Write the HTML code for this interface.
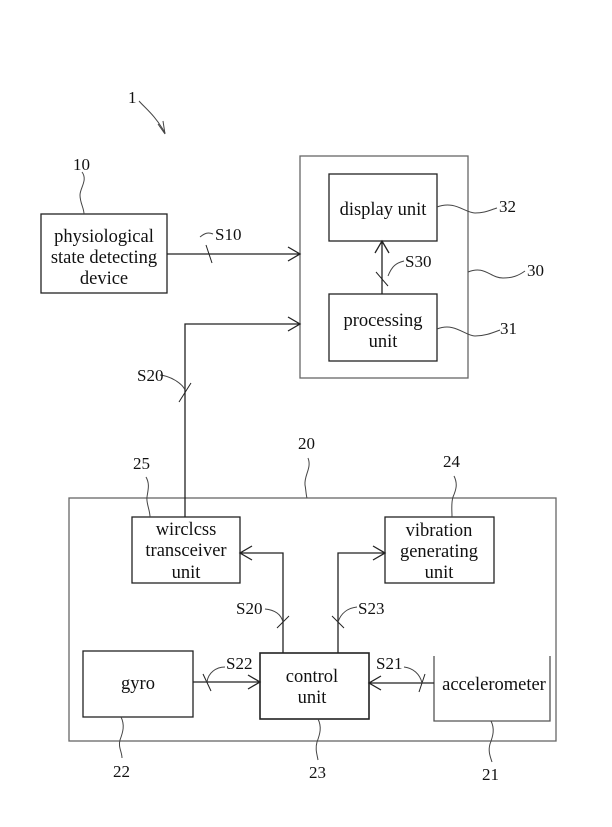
<!DOCTYPE html>
<html><head><meta charset="utf-8"><style>
html,body{margin:0;padding:0;background:#fff}
svg{display:block}
text{font-family:"Liberation Serif",serif;font-size:17px;fill:#111}
.b{font-size:18.5px}
</style></head><body>
<svg width="612" height="827" viewBox="0 0 612 827" xmlns="http://www.w3.org/2000/svg">
<g fill="none" stroke="#222" stroke-width="1.3">
<rect x="41" y="214" width="126" height="79"/>
<rect x="300" y="156" width="168" height="222" stroke="#666"/>
<rect x="329" y="174" width="108" height="67"/>
<rect x="329" y="294" width="108" height="67"/>
<rect x="69" y="498" width="487" height="243" stroke="#666"/>
<rect x="132" y="517" width="108" height="66"/>
<rect x="385" y="517" width="109" height="66"/>
<rect x="83" y="651" width="110" height="66"/>
<rect x="260" y="653" width="109" height="66" stroke-width="1.6"/>
<path d="M434 656 V721 H550 V656" stroke="#555"/>
<path d="M167 254 H300 M288 247 L300 254 L288 261"/>
<path d="M206 245 L212 263" stroke-width="1"/>
<path d="M185 517 V324 H300 M288 317 L300 324 L288 331"/>
<path d="M179 402 L191 383" stroke-width="1"/>
<path d="M382 294 V241 M375 253 L382 241 L389 253"/>
<path d="M376 272 L388 286" stroke-width="1"/>
<path d="M283 653 V553 H240 M252 546 L240 553 L252 560"/>
<path d="M277 628 L289 616" stroke-width="1"/>
<path d="M338 653 V553 H385 M373 546 L385 553 L373 560"/>
<path d="M332 616 L344 628" stroke-width="1"/>
<path d="M193 682 H260 M248 675 L260 682 L248 689"/>
<path d="M203 674 L211 691" stroke-width="1"/>
<path d="M434 683 H369 M381 676 L369 683 L381 690"/>
<path d="M425 674 L419 692" stroke-width="1"/>
</g>
<g fill="none" stroke="#444" stroke-width="1">
<path d="M165 133 C155 115 145 108 139 101"/>
<path d="M158 124 L165 134 L163 121"/>
<path d="M82 172 C88 180 80 188 80 195 C80 203 84 208 84 214"/>
<path d="M437 207 C455 200 465 213 475 213 C485 213 490 210 497 208"/>
<path d="M468 272 C485 265 490 278 503 278 C512 278 518 276 525 271"/>
<path d="M437 329 C455 322 465 336 475 336 C485 336 492 333 500 330"/>
<path d="M200 237 C205 233 208 232 213 234" />
<path d="M388 276 C392 266 396 263 404 261"/>
<path d="M160 375 C170 376 182 383 185 390"/>
<path d="M308 458 C312 468 304 475 305 485 C306 490 306 495 307 498"/>
<path d="M146 477 C150 484 148 490 147 497 C146 503 150 510 150 517"/>
<path d="M454 476 C458 484 456 490 453 497 C451 503 452 510 452 517"/>
<path d="M265 609 C275 610 281 614 283 622"/>
<path d="M357 607 C348 608 341 613 338 622"/>
<path d="M225 667 C216 667 208 673 207 682"/>
<path d="M404 667 C413 668 420 674 422 683"/>
<path d="M121 717 C125 725 123 732 120 740 C118 747 122 752 122 758"/>
<path d="M318 719 C322 727 320 734 317 742 C315 749 317 754 318 760"/>
<path d="M491 721 C495 729 493 736 490 744 C488 751 490 756 492 762"/>
</g>
<text x="128" y="103">1</text>
<text x="73" y="170">10</text>
<g text-anchor="middle" class="b">
<text class="b" x="104" y="242">physiological</text>
<text class="b" x="104" y="263">state detecting</text>
<text class="b" x="104" y="284">device</text>
<text class="b" x="383" y="215">display unit</text>
<text class="b" x="383" y="326">processing</text>
<text class="b" x="383" y="347">unit</text>
<text class="b" x="186" y="535">wirclcss</text>
<text class="b" x="186" y="556">transceiver</text>
<text class="b" x="186" y="578">unit</text>
<text class="b" x="439" y="536">vibration</text>
<text class="b" x="439" y="557">generating</text>
<text class="b" x="439" y="578">unit</text>
<text class="b" x="138" y="689">gyro</text>
<text class="b" x="312" y="682">control</text>
<text class="b" x="312" y="703">unit</text>
<text class="b" x="494" y="690">accelerometer</text>
</g>
<text x="215" y="240">S10</text>
<text x="405" y="267">S30</text>
<text x="499" y="212">32</text>
<text x="527" y="276">30</text>
<text x="500" y="334">31</text>
<text x="137" y="381">S20</text>
<text x="298" y="449">20</text>
<text x="133" y="469">25</text>
<text x="443" y="467">24</text>
<text x="236" y="614">S20</text>
<text x="358" y="614">S23</text>
<text x="226" y="669">S22</text>
<text x="376" y="669">S21</text>
<text x="113" y="777">22</text>
<text x="309" y="778">23</text>
<text x="482" y="780">21</text>
</svg>
</body></html>
